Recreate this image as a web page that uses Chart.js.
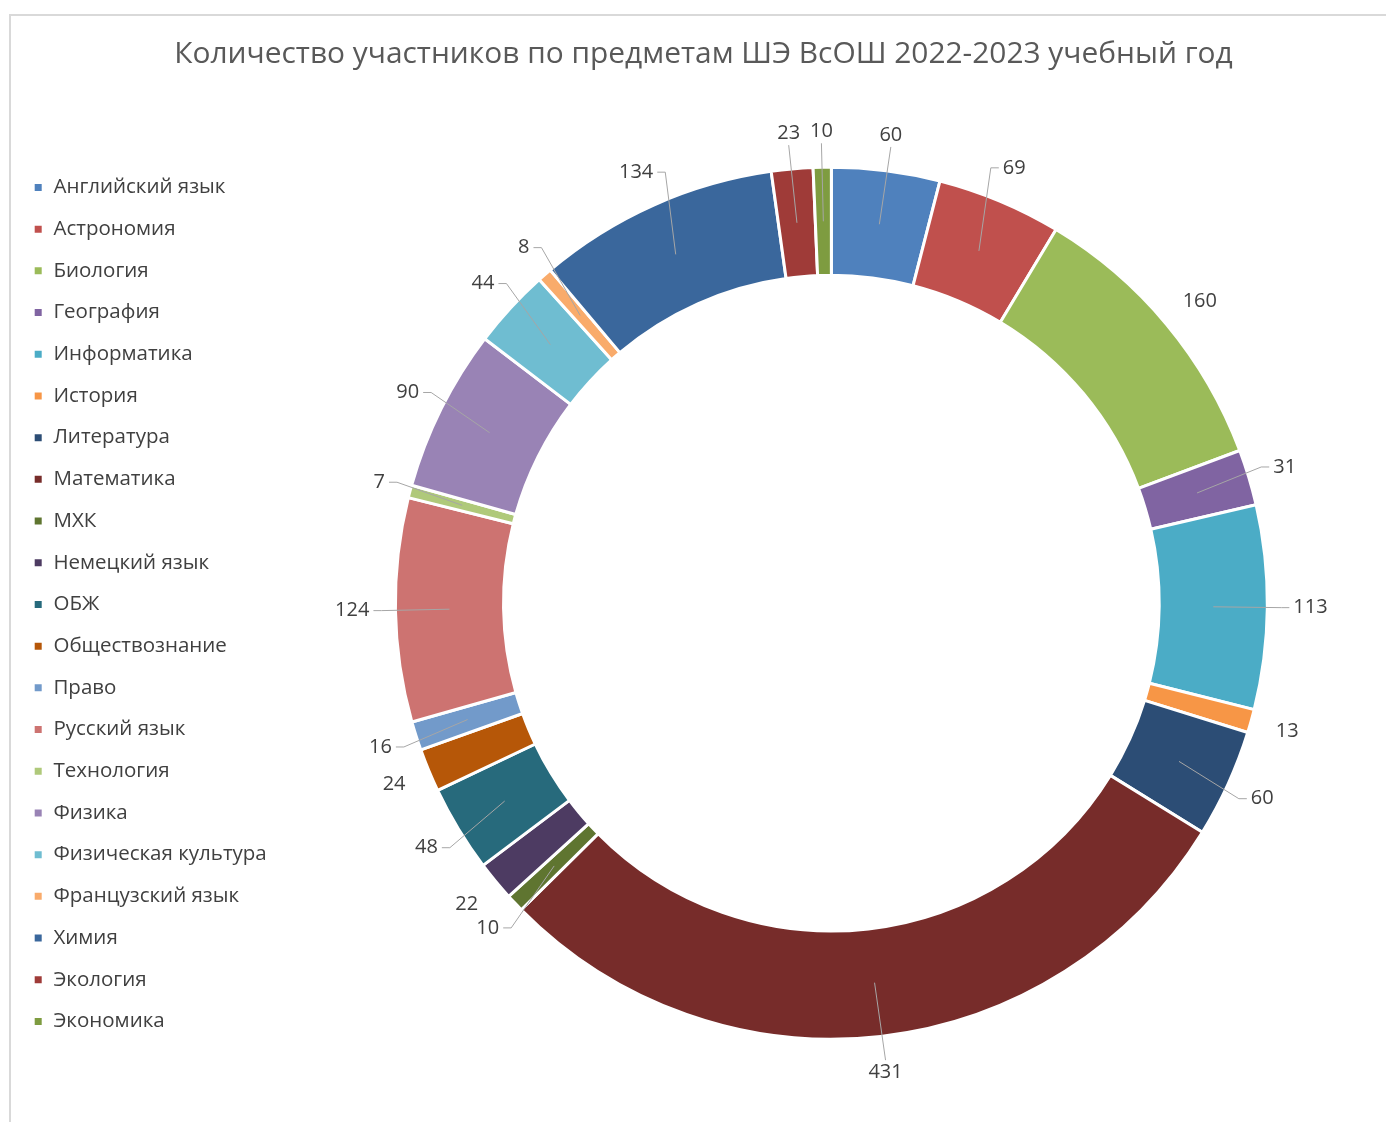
<!DOCTYPE html>
<html>
<head>
<meta charset="utf-8">
<script src="https://cdn.jsdelivr.net/npm/chart.js@4.4.0/dist/chart.umd.min.js"></script>
<style>
  body { margin: 0; background: #fff; }
  #frame {
    position: absolute; left: 9px; top: 14px; width: 1400px; height: 1200px;
    border-left: 2px solid #d9d9d9; border-top: 2px solid #d9d9d9;
  }
  #wrap { position: absolute; left: 0; top: 0; width: 1386px; height: 1122px; }
</style>
</head>
<body>
<div id="frame"></div>
<div id="wrap"><canvas id="myChart" width="1386" height="1122"></canvas></div>
<script>
// data
const subjects = ['Английский язык', 'Астрономия', 'Биология', 'География', 'Информатика', 'История',
  'Литература', 'Математика', 'МХК', 'Немецкий язык', 'ОБЖ', 'Обществознание', 'Право', 'Русский язык',
  'Технология', 'Физика', 'Физическая культура', 'Французский язык', 'Химия', 'Экология', 'Экономика'];
const participants = [60, 69, 160, 31, 113, 13, 60, 431, 10, 22, 48, 24, 16, 124, 7, 90, 44, 8, 134, 23, 10];
const colors = ['#4F81BD', '#C0504D', '#9BBB59', '#8064A2', '#4BACC6', '#F79646',
  '#2C4D75', '#772C2A', '#5F7530', '#4D3B62', '#276A7C', '#B65708',
  '#729ACA', '#CD7371', '#AFC97A', '#9983B5', '#6FBDD1', '#F9AB6B',
  '#3A679C', '#9F3B38', '#7E9C40'];
// labels drawn without a leader line
const noLeader = ['Биология', 'История', 'Обществознание', 'Немецкий язык'];

const fontName = '"Open Sans", "Noto Sans", sans-serif';

// value labels outside the ring with leader lines
const outLabels = {
  id: 'outLabels',
  afterDatasetsDraw(chart) {
    const ctx = chart.ctx;
    const meta = chart.getDatasetMeta(0);
    const values = chart.data.datasets[0].data;
    ctx.save();
    ctx.font = '20px ' + fontName;
    ctx.textAlign = 'center';
    ctx.textBaseline = 'middle';
    const boxes = [];
    meta.data.forEach(function (arc, i) {
      const p = arc.getProps(['x', 'y', 'startAngle', 'endAngle', 'innerRadius', 'outerRadius'], true);
      const mid = (p.startAngle + p.endAngle) / 2;
      const c = Math.cos(mid), s = Math.sin(mid);
      const text = String(values[i]);
      const w = ctx.measureText(text).width;
      const h = 20;
      let r = p.outerRadius + 26;
      let box;
      for (let k = 0; k < 30; k++) {
        const cx = p.x + r * c + c * w / 2;
        const cy = p.y + r * s + s * h / 2;
        box = { x: cx, y: cy, l: cx - w / 2, r: cx + w / 2, t: cy - h / 2, b: cy + h / 2 };
        const hit = boxes.some(function (o) {
          return box.l < o.r + 2 && box.r > o.l - 2 && box.t < o.b && box.b > o.t;
        });
        if (!hit) break;
        r += 4;
      }
      boxes.push(box);

      if (noLeader.indexOf(chart.data.labels[i]) < 0) {
        const rm = (p.innerRadius + p.outerRadius) / 2;
        const x0 = p.x + rm * c, y0 = p.y + rm * s;
        ctx.strokeStyle = '#a6a6a6';
        ctx.lineWidth = 1;
        ctx.beginPath();
        ctx.moveTo(x0, y0);
        if (c > 0.35) {
          ctx.lineTo(box.l - 12, box.y);
          ctx.lineTo(box.l - 4, box.y);
        } else if (c < -0.35) {
          ctx.lineTo(box.r + 12, box.y);
          ctx.lineTo(box.r + 4, box.y);
        } else if (s < 0) {
          ctx.lineTo(box.x, box.b + 2);
        } else {
          ctx.lineTo(box.x, box.t - 2);
        }
        ctx.stroke();
      }
      ctx.fillStyle = '#404040';
      ctx.fillText(text, box.x, box.y);
    });
    ctx.restore();
  }
};

const ctx = document.getElementById('myChart');

new Chart(ctx, {
  type: 'doughnut',
  data: {
    labels: subjects,
    datasets: [{
      data: participants,
      backgroundColor: colors,
      borderColor: '#ffffff',
      borderWidth: 3,
      radius: 436,
      cutout: '75.2%'
    }]
  },
  options: {
    responsive: false,
    animation: false,
    events: [],
    layout: {
      padding: { left: 12, right: -9, top: 0, bottom: 0 }
    },
    plugins: {
      title: {
        display: true,
        text: 'Количество участников по предметам ШЭ ВсОШ 2022-2023 учебный год',
        color: '#595959',
        font: { family: fontName, size: 29.9, weight: 'normal' },
        padding: { top: 36.5, bottom: 12 }
      },
      legend: {
        position: 'left',
        align: 'start',
        title: {
          display: true,
          text: ' ',
          font: { size: 10 },
          padding: { top: 144, bottom: 0 }
        },
        labels: {
          boxWidth: 10,
          boxHeight: 10,
          padding: 21.2,
          color: '#404040',
          font: { family: fontName, size: 20.5 }
        }
      },
      tooltip: { enabled: false }
    }
  },
  plugins: [outLabels]
});
</script>
</body>
</html>
